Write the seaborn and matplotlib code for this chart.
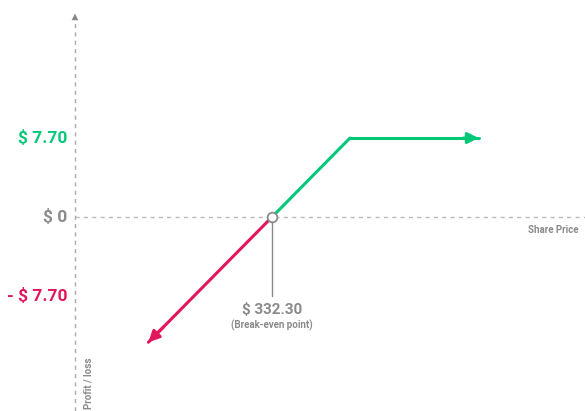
import pandas as pd
import seaborn as sns
import matplotlib.pyplot as plt

# payoff data (share price vs profit / loss)
break_even = 332.30
gain_price = [332.30, 340.00, 352.70]
gain_pnl = [0.0, 7.70, 7.70]
loss_price = [332.30, 320.10]
loss_pnl = [0.0, -12.20]
tick_vals = [7.70, 0.0, -7.70]
tick_text = ['$ 7.70', '$ 0', '- $ 7.70']

GREEN = '#00c878'
RED = '#e2165a'
GREY = '#8a8a8a'
FONT = ['Liberation Sans Narrow', 'Roboto', 'DejaVu Sans']

sns.set_style('white')
plt.rcParams['font.family'] = FONT

fig = plt.figure(figsize=(5.85, 4.11), dpi=100)
ax = fig.add_axes([0, 0, 1, 1])
ax.set_xlim(305.45, 363.2)
ax.set_ylim(-18.9, 21.15)
ax.axis('off')

y_axis_x = 312.85

# axes (dashed)
ax.plot([y_axis_x, y_axis_x], [-18.9, 19.6], ls=(0, (3, 3)), color='#aaaaaa', lw=1)
ax.plot([y_axis_x, 363.2], [0, 0], ls=(0, (3, 3)), color='#bbbbbb', lw=1)
ax.annotate('', xy=(y_axis_x, 20.1), xytext=(y_axis_x, 19.2),
            arrowprops=dict(arrowstyle='-|>', color='#888888', lw=0,
                            mutation_scale=12))

gain = pd.DataFrame({'price': gain_price, 'pnl': gain_pnl})
loss = pd.DataFrame({'price': loss_price, 'pnl': loss_pnl})
sns.lineplot(data=gain.iloc[:-1], x='price', y='pnl', color=GREEN, lw=2.2, ax=ax)
sns.lineplot(data=gain.iloc[1:], x='price', y='pnl', color=GREEN, lw=2.2, ax=ax)
sns.lineplot(data=loss, x='price', y='pnl', color=RED, lw=2.2, ax=ax)

# arrow heads
ax.annotate('', xy=(gain_price[-1], gain_pnl[-1]),
            xytext=(gain_price[-1] - 1.5, gain_pnl[-1]),
            arrowprops=dict(arrowstyle='-|>', color=GREEN, lw=2.2,
                            mutation_scale=16, shrinkA=0, shrinkB=0))
ax.annotate('', xy=(loss_price[-1], loss_pnl[-1]),
            xytext=(loss_price[-1] + 1.5, loss_pnl[-1] + 1.5),
            arrowprops=dict(arrowstyle='-|>', color=RED, lw=2.2,
                            mutation_scale=16, shrinkA=0, shrinkB=0))

# break-even marker and callout
ax.plot([break_even, break_even], [0, -7.7], color=GREY, lw=1)
ax.plot([break_even], [0], marker='o', ms=7, mfc='white', mec=GREY, mew=1.3)
ax.text(break_even, -9.1, f'$ {break_even:.2f}', ha='center', va='center',
        fontsize=11, fontweight='bold', color=GREY)
ax.text(break_even, -10.6, '(Break-even point)', ha='center', va='center',
        fontsize=7, fontweight='bold', color=GREY)

# y tick labels
for v, t, c in zip(tick_vals, tick_text, [GREEN, GREY, RED]):
    ax.text(312.1, v, t, ha='right', va='center', fontsize=12.5,
            fontweight='bold', color=c)

ax.text(362.6, -1.25, 'Share Price', ha='right', va='center',
        fontsize=7, fontweight='bold', color=GREY)
ax.text(314.2, -18.75, 'Profit / loss', ha='center', va='bottom',
        rotation=90, fontsize=7, fontweight='bold', color=GREY)

fig.savefig('out.png', dpi=100)
